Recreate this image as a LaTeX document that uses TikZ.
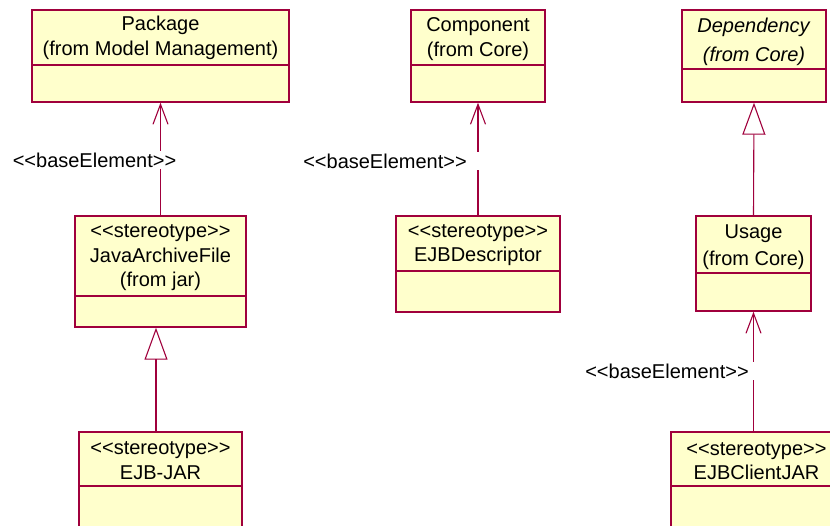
\documentclass[tikz,border=0pt]{standalone}
\usepackage{fontspec}
\setmainfont{Liberation Sans}
\usetikzlibrary{arrows.meta,fit}

\definecolor{umlborder}{RGB}{160,0,60}
\definecolor{umlfill}{RGB}{255,255,204}

% guillemet-style stereotype brackets, kept as plain < and > characters
\newcommand\stereo[1]{<\kern0pt<#1>\kern0pt>}

\tikzset{
  classbox/.style={draw=umlborder, fill=umlfill, line width=1.4pt, inner sep=0pt},
  classdiv/.style={draw=umlborder, line width=1.1pt},
  classtext/.style={align=center, inner sep=0pt, font=\fontsize{20}{24.5}\selectfont},
  baselink/.style={draw=umlborder, line width=1.1pt, -{Straight Barb[length=20pt,width=15pt]}},
  genlink/.style={draw=umlborder, line width=1.1pt, -{Triangle[open,length=32pt,width=23pt]}},
  linklabel/.style={fill=white, inner xsep=14pt, inner ysep=2pt, font=\fontsize{20}{24}\selectfont}
}

% #1 name, #2 top-left, #3 bottom-right, #4 divider y, #5 text centre y, #6 text
\newcommand\umlclass[6]{%
  \node[classbox, fit={#2 #3}] (#1) {};
  \draw[classdiv] (#1.west |- 0,#4) -- (#1.east |- 0,#4);
  \node[classtext] (#1-name) at (#1.center |- 0,#5) {#6};
}

\begin{document}
\begin{tikzpicture}[x=1pt, y=-1pt]
  \useasboundingbox (0,0) rectangle (830,525);

  % classes
  \umlclass{pkg}{(32,10)}{(289,102)}{65}{38}{Package\\(from Model Management)}
  \umlclass{comp}{(411,10)}{(545,102)}{65}{39}{Component\\(from Core)}
  \umlclass{dep}{(682,10)}{(826,102)}{69}{41.5}{\textit{Dependency}\\[4.5pt]\textit{(from Core)}}
  \umlclass{jar}{(75,216)}{(246,327)}{296}{258}{\stereo{stereotype}\\JavaArchiveFile\\(from jar)}
  \umlclass{desc}{(396,216)}{(560,312)}{271}{245}{\stereo{stereotype}\\EJBDescriptor}
  \umlclass{usage}{(696,216)}{(811,311)}{273}{247.5}{Usage\\[2.5pt](from Core)}
  \umlclass{ejbjar}{(79,432)}{(242,545)}{486}{460.5}{\stereo{stereotype}\\EJB-JAR}
  \umlclass{client}{(671,432)}{(842,545)}{486}{461}{\stereo{stereotype}\\EJBClientJAR}

  % connectors
  \draw[baselink] (jar.north) -- (pkg.south);
  \draw[genlink] ([xshift=-4.5pt]ejbjar.north) -- ([xshift=-4.5pt]jar.south);
  \draw[baselink] (desc.north) -- (comp.south);
  \draw[genlink] (usage.north) -- (dep.south);
  \draw[baselink] (client.north -| usage.south) -- (usage.south);

  % connector labels
  \node[linklabel] (lbl-pkg) at (94.5,160) {\stereo{baseElement}};
  \node[linklabel] (lbl-comp) at (385,161) {\stereo{baseElement}};
  \node[linklabel] (lbl-usage) at (667,371) {\stereo{baseElement}};
\end{tikzpicture}
\end{document}
